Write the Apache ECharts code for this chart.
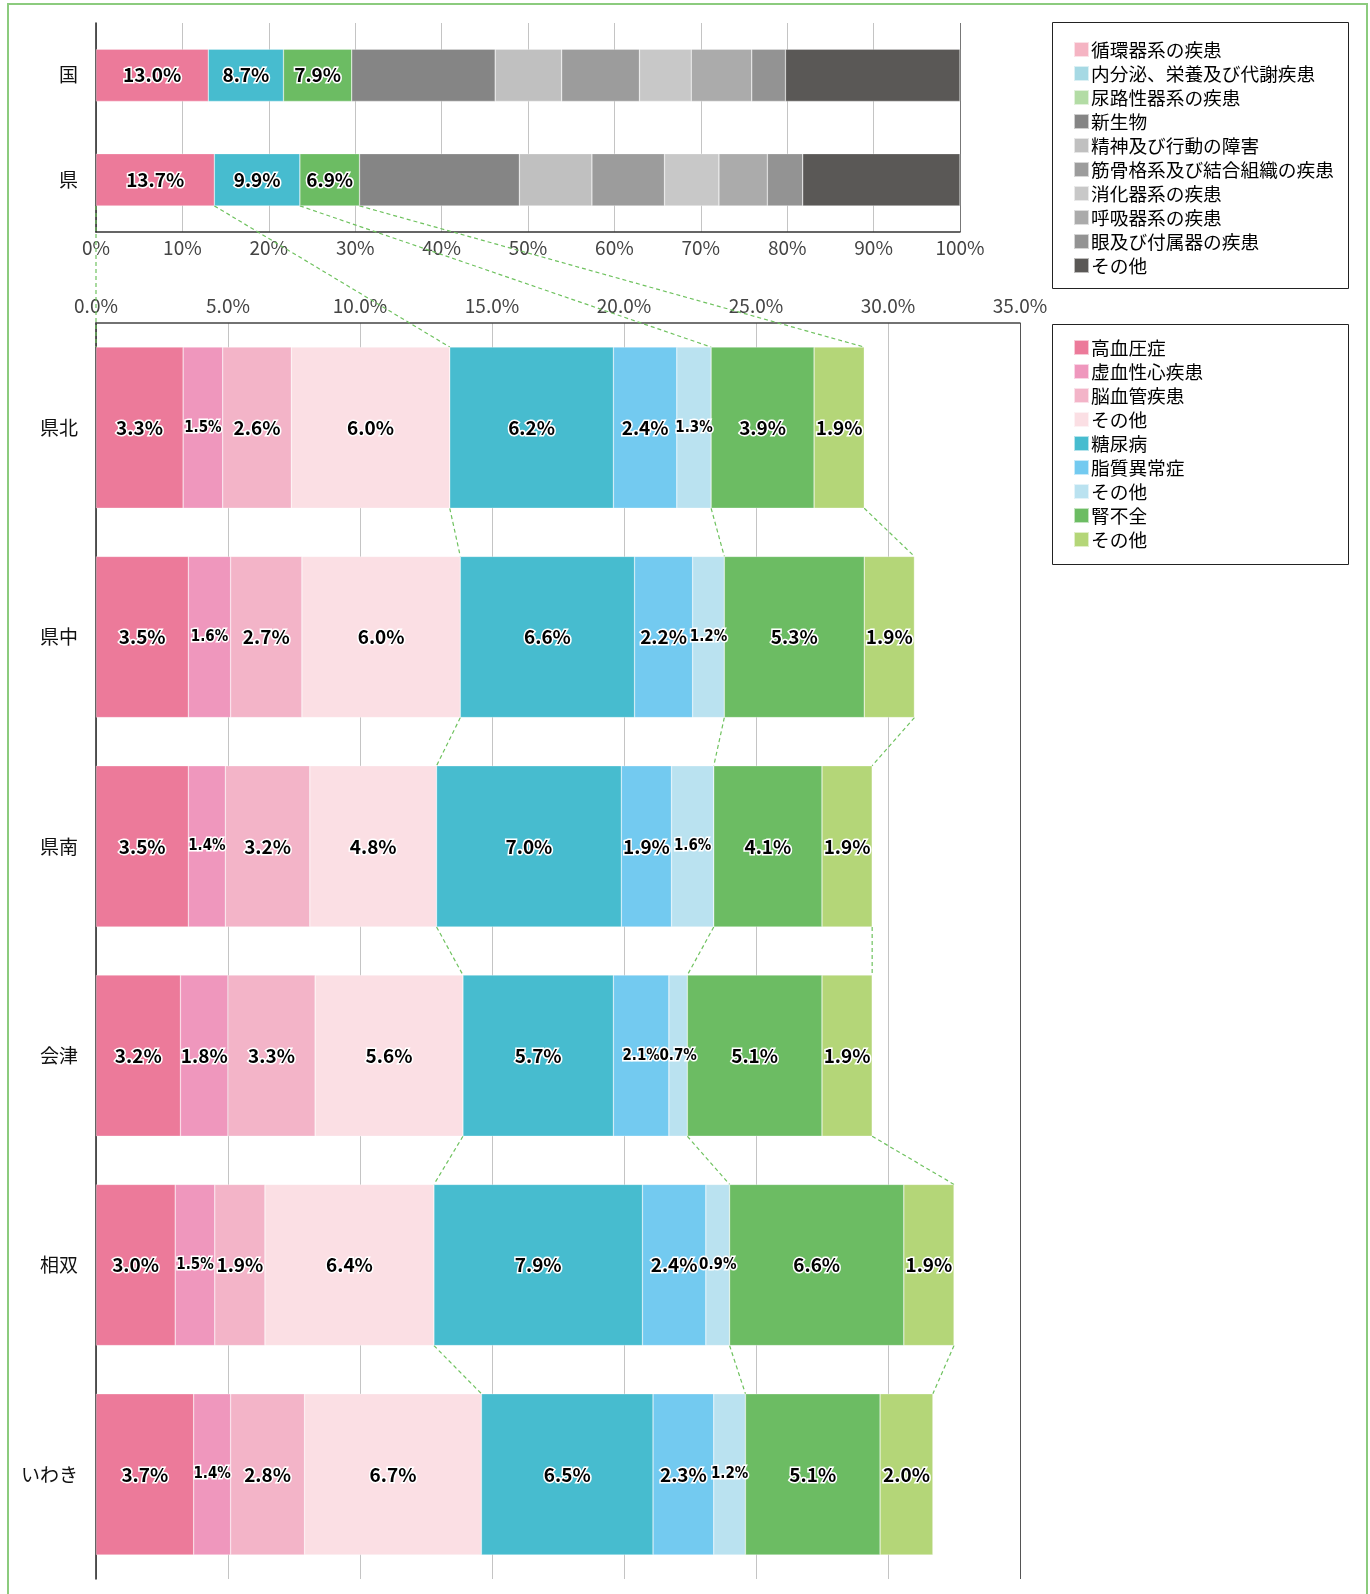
<!DOCTYPE html>
<html>
<head>
<meta charset="utf-8">
<script src="https://cdn.jsdelivr.net/npm/echarts@6/dist/echarts.min.js"></script>
<style>
  html, body { margin: 0; padding: 0; background: #fff; }
  #main { width: 1370px; height: 1594px; }
</style>
</head>
<body>
<div id="main"></div>
<script>
// 上段：国・県の疾病別構成（%）
var topCats = ['国', '県'];
var topNames = ['循環器系の疾患', '内分泌、栄養及び代謝疾患', '尿路性器系の疾患', '新生物',
  '精神及び行動の障害', '筋骨格系及び結合組織の疾患', '消化器系の疾患', '呼吸器系の疾患',
  '眼及び付属器の疾患', 'その他'];
var topVals = [
  [13.0, 13.7],
  [8.7, 9.9],
  [7.9, 6.9],
  [16.6, 18.5],
  [7.7, 8.4],
  [9.0, 8.4],
  [6.0, 6.3],
  [7.0, 5.6],
  [3.9, 4.1],
  [20.2, 18.2]
];
var topColors = ['#EC7A9A', '#47BCCF', '#6CBC63', '#858585', '#C0C0C0', '#9C9C9C',
  '#C8C8C8', '#ABABAB', '#939393', '#5A5856'];
var topLegendColors = ['#F5B4C3', '#A6D9E4', '#B3DCA5', '#858585', '#C0C0C0', '#9C9C9C',
  '#C8C8C8', '#ABABAB', '#939393', '#5A5856'];
var topTicks = [0, 10, 20, 30, 40, 50, 60, 70, 80, 90, 100];

// 下段：地域別の内訳（%）
var regions = ['県北', '県中', '県南', '会津', '相双', 'いわき'];
var subNames = ['高血圧症', '虚血性心疾患', '脳血管疾患', 'その他', '糖尿病', '脂質異常症', 'その他', '腎不全', 'その他'];
var subVals = [
  [3.3, 3.5, 3.5, 3.2, 3.0, 3.7],
  [1.5, 1.6, 1.4, 1.8, 1.5, 1.4],
  [2.6, 2.7, 3.2, 3.3, 1.9, 2.8],
  [6.0, 6.0, 4.8, 5.6, 6.4, 6.7],
  [6.2, 6.6, 7.0, 5.7, 7.9, 6.5],
  [2.4, 2.2, 1.9, 2.1, 2.4, 2.3],
  [1.3, 1.2, 1.6, 0.7, 0.9, 1.2],
  [3.9, 5.3, 4.1, 5.1, 6.6, 5.1],
  [1.9, 1.9, 1.9, 1.9, 1.9, 2.0]
];
var subColors = ['#EC7A9A', '#EF97BD', '#F3B4C8', '#FBDFE4', '#47BCCF', '#73CAF0', '#BAE2F0', '#6CBC63', '#B4D678'];
var subTicks = [0, 5, 10, 15, 20, 25, 30, 35];
// 区切り（循環器／内分泌／尿路）の最後の系列番号
var groupEnds = [3, 6, 8];

var FONT = '"Noto Sans CJK JP", "Noto Sans", sans-serif';
var TOP_BAR = 0.5, SUB_BAR = 0.77;

function labelOf(v) {
  var narrow = v < 1.7 || (v < 2.2 && v > 2.05);
  return {
    show: true,
    formatter: function (p) { return p.value.toFixed(1) + '%'; },
    color: '#000',
    fontFamily: narrow ? '"DejaVu Sans Condensed", "Liberation Sans Narrow", ' + FONT : FONT,
    fontSize: narrow ? 15 : 19,
    fontWeight: 'bold',
    textBorderColor: '#fff',
    textBorderWidth: 3
  };
}

var series = [];
topNames.forEach(function (n, i) {
  series.push({
    name: n, type: 'bar', stack: 'top', xAxisIndex: 0, yAxisIndex: 0,
    barWidth: (TOP_BAR * 100) + '%',
    itemStyle: { color: topColors[i], borderColor: 'rgba(255,255,255,0.6)', borderWidth: 0.5 },
    label: i < 3 ? labelOf(5) : { show: false },
    data: topVals[i]
  });
});
subNames.forEach(function (n, i) {
  series.push({
    name: n + '#' + i, type: 'bar', stack: 'sub', xAxisIndex: 1, yAxisIndex: 1,
    barWidth: (SUB_BAR * 100) + '%',
    itemStyle: { color: subColors[i], borderColor: 'rgba(255,255,255,0.6)', borderWidth: 0.5 },
    data: subVals[i].map(function (v) { return { value: v, label: labelOf(v) }; })
  });
});

var legendText = { fontFamily: FONT, fontSize: 18.7, lineHeight: 19, color: '#000', padding: [0, 0, 0, -3] };

var option = {
  animation: false,
  backgroundColor: '#fff',
  textStyle: { fontFamily: FONT },
  grid: [
    { left: 96, right: 410, top: 23, height: 209 },
    { left: 96, right: 350, top: 323, bottom: 15 }
  ],
  legend: [
    {
      left: 1068, top: 35, orient: 'vertical', itemWidth: 15, itemHeight: 15, itemGap: 5,
      icon: 'rect', textStyle: legendText,
      data: topNames.map(function (n, i) { return { name: n, itemStyle: { color: topLegendColors[i] } }; })
    },
    {
      left: 1068, top: 333, orient: 'vertical', itemWidth: 15, itemHeight: 15, itemGap: 5,
      icon: 'rect', textStyle: legendText,
      formatter: function (n) { return n.split('#')[0]; },
      data: subNames.map(function (n, i) { return n + '#' + i; })
    }
  ],
  xAxis: [
    {
      gridIndex: 0, type: 'value', min: 0, max: 100, interval: 10,
      axisLine: { show: true, lineStyle: { color: '#333', width: 1.5 } },
      axisTick: { show: false },
      axisLabel: { formatter: '{value}%', fontSize: 19, color: '#444', margin: 6, fontFamily: FONT },
      splitLine: { show: true, lineStyle: { color: topTicks.map(function (t) { return t === 100 ? '#777' : '#C4C4C4'; }) } }
    },
    {
      gridIndex: 1, type: 'value', position: 'top', min: 0, max: 35, interval: 5,
      axisLine: { show: true, lineStyle: { color: '#444', width: 1.5 } },
      axisTick: { show: false },
      axisLabel: { formatter: function (v) { return v.toFixed(1) + '%'; }, fontSize: 19, color: '#444', margin: 8, fontFamily: FONT },
      splitLine: { show: true, lineStyle: { color: subTicks.map(function (t) { return t === 35 ? '#555' : '#C4C4C4'; }) } }
    }
  ],
  yAxis: [
    {
      gridIndex: 0, type: 'category', data: topCats, inverse: true,
      axisLine: { lineStyle: { color: '#222', width: 1.5 } },
      axisTick: { length: 6, lineStyle: { color: '#222' } },
      axisLabel: { fontSize: 19, color: '#111', margin: 18, fontFamily: FONT }
    },
    {
      gridIndex: 1, type: 'category', data: regions, inverse: true,
      axisLine: { lineStyle: { color: '#222', width: 1.5 } },
      axisTick: { length: 6, lineStyle: { color: '#222' } },
      axisLabel: { fontSize: 19, color: '#111', margin: 18, fontFamily: FONT }
    }
  ],
  series: series
};

var chart = echarts.init(document.getElementById('main'), null, { renderer: 'canvas' });
chart.setOption(option);

// 点線の引き出し線：棒の位置はスケールから求める
function cum(vals, upto, j) {
  var s = 0;
  for (var k = 0; k <= upto; k++) s += vals[k][j];
  return s;
}
function edge(gridIdx, x, cat, barPct, side) {
  var f = { xAxisIndex: gridIdx, yAxisIndex: gridIdx };
  var p = chart.convertToPixel(f, [x, cat]);
  var p2 = chart.convertToPixel(f, [x, cat === 0 ? 1 : cat - 1]);
  var band = Math.abs(p2[1] - p[1]);
  return [p[0], p[1] + side * band * barPct / 2];
}
var dash = { stroke: '#6FC25F', lineWidth: 1.2, lineDash: [4, 3] };
var elements = [];
function link(a, b) {
  elements.push({ type: 'line', z: 1, silent: true,
    shape: { x1: a[0], y1: a[1], x2: b[0], y2: b[1] }, style: dash });
}
// 県（上段）→ 県北
var kenIdx = 1;
var kenBounds = [cum(topVals, 0, kenIdx), cum(topVals, 1, kenIdx), cum(topVals, 2, kenIdx)];
link(edge(0, 0, kenIdx, TOP_BAR, 1), edge(1, 0, 0, SUB_BAR, -1));
kenBounds.forEach(function (b, g) {
  link(edge(0, b, kenIdx, TOP_BAR, 1), edge(1, cum(subVals, groupEnds[g], 0), 0, SUB_BAR, -1));
});
// 地域間
for (var r = 0; r < regions.length - 1; r++) {
  groupEnds.forEach(function (ge) {
    link(edge(1, cum(subVals, ge, r), r, SUB_BAR, 1), edge(1, cum(subVals, ge, r + 1), r + 1, SUB_BAR, -1));
  });
}
// 凡例枠・外枠
elements.push({ type: 'rect', z: 0, silent: true, shape: { x: 1052.5, y: 22.5, width: 296, height: 266 },
  style: { fill: 'none', stroke: '#222', lineWidth: 1 } });
elements.push({ type: 'rect', z: 0, silent: true, shape: { x: 1052.5, y: 324.5, width: 296, height: 240 },
  style: { fill: 'none', stroke: '#222', lineWidth: 1 } });
elements.push({ type: 'rect', z: 0, silent: true, shape: { x: 8, y: 4, width: 1359, height: 1610 },
  style: { fill: 'none', stroke: '#8CCB7E', lineWidth: 2 } });
chart.setOption({ graphic: { elements: elements } });

window.addEventListener('resize', function () { chart.resize(); });
</script>
</body>
</html>
